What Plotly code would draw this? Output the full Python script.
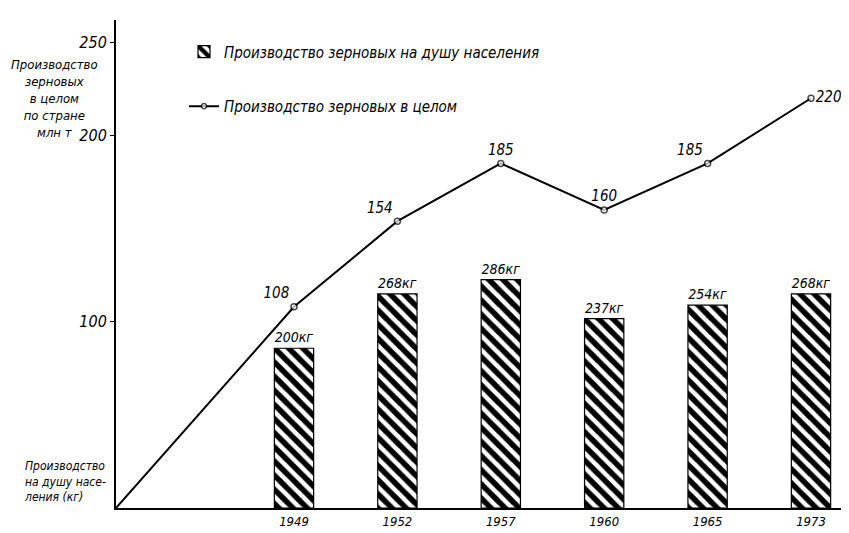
import plotly.graph_objects as go

# ---- data ----
years = ["1949", "1952", "1957", "1960", "1965", "1973"]
per_capita_kg = [200, 268, 286, 237, 254, 268]          # bars, kg per person
total_mln_t = [108, 154, 185, 160, 185, 220]             # line, mln t
y_ticks = [100, 200, 250]

# line starts at the origin of the axes
origin_value = 0

# ---- layout geometry (pixels) ----
W, H = 849, 533
L, R, T, B = 108, 16, 12, 14
PW, PH = W - L - R, H - T - B
PX_PER_CAT = 103.4
X0_PX = 286  # pixel of first category
x_min = (L - X0_PX) / PX_PER_CAT
x_max = x_min + PW / PX_PER_CAT

def xp(px):
    return (px - L) / PW

def yp(py):
    return (H - B - py) / PH

FONT = "DejaVu Sans Condensed, DejaVu Sans, sans-serif"
idx = list(range(len(years)))

fig = go.Figure()

fig.add_trace(go.Bar(
    x=idx, y=per_capita_kg, yaxis="y2", width=0.38,
    name="Производство зерновых на душу населения", legendgroup="bars",
    marker=dict(color="white", line=dict(color="black", width=1.2),
                pattern=dict(shape="\\", fgcolor="black", bgcolor="white",
                             fgopacity=1, size=10, solidity=0.55)),
    text=[f"{v}кг" for v in per_capita_kg], textposition="outside",
    textfont=dict(family=FONT, size=14, color="black", style="italic"),
    cliponaxis=False,
))

line_x = [x_min] + idx
line_y = [origin_value] + total_mln_t
line_text = [""] + [str(v) for v in total_mln_t]
positions = ["top left", "top left", "top left", "top center", "top center",
             "top left", "middle right"]

fig.add_trace(go.Scatter(
    x=line_x, y=line_y, mode="lines+markers+text",
    name="Производство зерновых в целом", legendgroup="line",
    line=dict(color="black", width=2),
    marker=dict(symbol="circle", size=[0] + [6] * len(years), color="white",
                line=dict(color="black", width=1.5)),
    text=line_text, textposition=positions,
    textfont=dict(family=FONT, size=15, color="black", style="italic"),
    cliponaxis=False,
))

annotations = [
    dict(x=xp(46), y=yp(48), xref="paper", yref="paper", xanchor="center", yanchor="top",
         text="Производство<br>зерновых<br>в целом<br>по стране<br>млн т",
         showarrow=False, align="center",
         font=dict(family=FONT, size=13, color="black", style="italic")),
    dict(x=xp(14), y=yp(466), xref="paper", yref="paper", xanchor="left", yanchor="top",
         text="Производство<br>на душу насе-<br>ления (кг)",
         showarrow=False, align="left",
         font=dict(family=FONT, size=12, color="black", style="italic")),
]

fig.update_layout(
    width=W, height=H,
    margin=dict(l=L, r=R, t=T, b=B),
    paper_bgcolor="white", plot_bgcolor="white",
    showlegend=True,
    legend=dict(x=xp(176), y=yp(28), xanchor="left", yanchor="top",
                traceorder="grouped", tracegroupgap=32,
                bgcolor="rgba(0,0,0,0)",
                font=dict(family=FONT, size=15, color="black", style="italic")),
    xaxis=dict(range=[x_min, x_max], tickvals=idx, ticktext=years,
               showline=True, linecolor="black", linewidth=2, ticks="",
               showgrid=False, zeroline=False,
               tickfont=dict(family=FONT, size=13, color="black", style="italic")),
    yaxis=dict(range=[0, 262], tickvals=y_ticks, ticktext=[str(v) for v in y_ticks],
               showline=True, linecolor="black", linewidth=2,
               ticks="outside", ticklen=4, tickcolor="black",
               showgrid=False, zeroline=False,
               tickfont=dict(family=FONT, size=16, color="black", style="italic")),
    yaxis2=dict(range=[0, 611], overlaying="y", visible=False),
    annotations=annotations,
    bargap=0.6,
)

fig.write_html("out.html")
